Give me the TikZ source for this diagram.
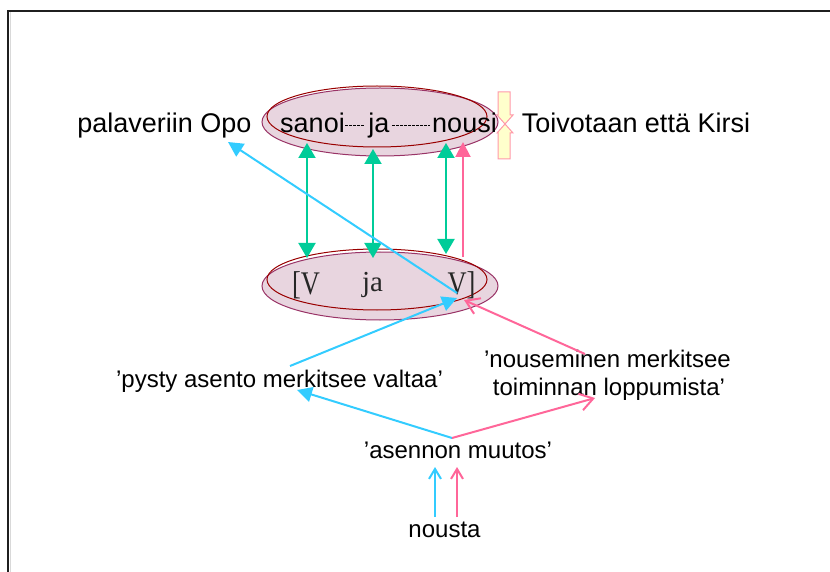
\documentclass[tikz,border=0pt]{standalone}
\usepackage{fontspec}
\setmainfont{Liberation Sans}
\newfontfamily\seriffont{Liberation Serif}
\usetikzlibrary{arrows.meta,shapes.geometric}
\definecolor{ellfill}{RGB}{232,213,223}
\definecolor{ellout}{RGB}{153,51,102}
\definecolor{ellin}{RGB}{153,0,0}
\definecolor{grn}{RGB}{0,204,153}
\definecolor{pnk}{RGB}{255,102,153}
\definecolor{blu}{RGB}{51,204,255}
\definecolor{ylw}{RGB}{255,255,204}
\definecolor{ylwedge}{RGB}{255,153,170}
\tikzset{
  outerell/.style={ellipse,draw=ellout,fill=ellfill,line width=1pt,minimum width=236pt,minimum height=68pt,inner sep=0pt},
  innerell/.style={ellipse,draw=ellin,line width=1pt,minimum width=220pt,minimum height=61pt,inner sep=0pt},
  bigtxt/.style={anchor=base,inner sep=0pt,font=\fontsize{27}{30}\selectfont},
  smalltxt/.style={anchor=base,inner sep=0pt,font=\fontsize{24}{28}\selectfont},
  sertxt/.style={anchor=base,inner sep=0pt,font=\seriffont\fontsize{33}{36}\selectfont,text=black!85},
  serja/.style={anchor=base,inner sep=0pt,font=\seriffont\fontsize{29}{32}\selectfont,text=black!85},
  grnarr/.style={draw=grn,line width=2pt,{Triangle[width=17pt,length=15pt]}-{Triangle[width=17pt,length=15pt]}},
  fillarr/.style={line width=2pt,-{Triangle[width=15pt,length=15pt]}},
  openarr/.style={line width=2pt,-{Straight Barb[width=17pt,length=13pt,line width=2pt]}},
  smallopen/.style={line width=2pt,-{Straight Barb[width=12pt,length=10pt,line width=2pt]}},
  wordlink/.style={black,line width=0.6pt,dash pattern=on 2.5pt off 1.5pt},
  blockarr/.style={fill=ylw,draw=ylwedge,line width=1pt}
}
\begin{document}
\begin{tikzpicture}[x=1pt,y=-1pt]
\useasboundingbox (0,0) rectangle (830,572);
% frame
\draw[gray!30,line width=0.8pt] (10.2,12) -- (10.2,580);
\draw[black!88,line width=1.8pt] (8,590) -- (8,11) -- (840,11);
% ellipses
\node[outerell] (topout) at (380,122) {};
\node[innerell] (topin) at (377,116.5) {};
\node[outerell] (botout) at (380,286) {};
\node[innerell] (botin) at (377,279.5) {};
% top words
\node[bigtxt] (opo) at (164.5,133) {palaveriin Opo};
\node[bigtxt] (sanoi) at (312.5,133) {sanoi};
\node[bigtxt] (ja) at (379,133) {ja};
\node[bigtxt] (nousi) at (464.5,133) {nousi};
\node[bigtxt] (toiv) at (636,133) {Toivotaan että Kirsi};
\draw[wordlink] (345,125) -- (365,125);
\draw[wordlink] (392,125) -- (430,125);
% yellow block arrows
\draw[blockarr] (498,92) -- (510,92) -- (510,115) -- (513,115) -- (505,124) -- (497,115) -- (498,115) -- cycle;
\draw[blockarr] (498,159) -- (510,159) -- (510,133) -- (513,133) -- (505,124) -- (497,133) -- (498,133) -- cycle;
% construction
\node[sertxt] (lv) at (306,294) {\scalebox{0.8}[1]{[V}};
\node[serja] (cja) at (372.5,291) {ja};
\node[sertxt] (rv) at (461.5,294) {\scalebox{0.8}[1]{V]}};
% lower texts
\node[smalltxt] (pysty) at (279.5,387) {’pysty asento merkitsee valtaa’};
\node[smalltxt] (nous1) at (607.5,367) {’nouseminen merkitsee};
\node[smalltxt] (nous2) at (609,395) {toiminnan loppumista’};
\node[smalltxt] (asen) at (458,458) {’asennon muutos’};
\node[smalltxt] (nousta) at (444.5,537) {nousta};
% coordinates
\coordinate (g1t) at (307,143); \coordinate (g1b) at (307,258);
\coordinate (g2t) at (373,149); \coordinate (g2b) at (373,258);
\coordinate (g3t) at (446,143); \coordinate (g3b) at (446,254);
\coordinate (pvb) at (463,257); \coordinate (pvt) at (463,142);
\coordinate (bls) at (457,293); \coordinate (ble) at (228,142);
\coordinate (pys) at (290,366); \coordinate (vin) at (457,298);
\coordinate (nss) at (585,354); \coordinate (vin2) at (464,300);
\coordinate (junc) at (452,438);
\coordinate (pysb) at (297,390); \coordinate (nsb) at (595,398);
\coordinate (bub) at (435,517); \coordinate (but) at (435,467);
\coordinate (pub) at (457,517); \coordinate (put) at (457,467);
% green double arrows
\draw[grnarr] (g1t) -- (g1b);
\draw[grnarr] (g2t) -- (g2b);
\draw[grnarr] (g3t) -- (g3b);
% pink vertical
\draw[fillarr,draw=pnk,fill=pnk] (pvb) -- (pvt);
% blue long line
\draw[fillarr,draw=blu,fill=blu] (bls) -- (ble);
% to V]
\draw[fillarr,draw=blu,fill=blu] (pys) -- (vin);
\draw[openarr,draw=pnk] (nss) -- (vin2);
% from asennon muutos
\draw[fillarr,draw=blu,fill=blu] (junc) -- (pysb);
\draw[openarr,draw=pnk] (junc) -- (nsb);
% from nousta
\draw[smallopen,draw=blu] (bub) -- (but);
\draw[smallopen,draw=pnk] (pub) -- (put);
\end{tikzpicture}
\end{document}
